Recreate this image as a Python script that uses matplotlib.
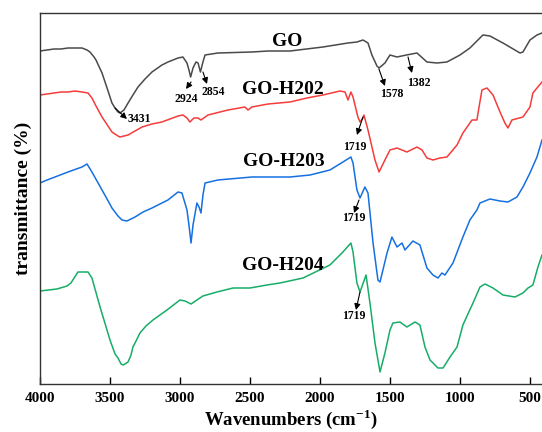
import numpy as np
import matplotlib
matplotlib.use("Agg")
import matplotlib.pyplot as plt

# FTIR spectra of GO and the three GO-H20x samples (offset, arbitrary units).
go_wn = [4000, 3950, 3900, 3850, 3800, 3750, 3700, 3664, 3643, 3614, 3600, 3557, 3521,
         3486, 3464, 3443, 3429, 3400, 3371, 3336, 3300, 3250, 3200, 3129, 3086, 3014,
         2979, 2950, 2936, 2924, 2907, 2886, 2871, 2854, 2836, 2821, 2729, 2486,
         2371, 2214, 1979, 1800, 1736, 1693, 1657, 1629, 1593, 1578, 1536, 1500,
         1450, 1382, 1307, 1236, 1164, 1093, 1000, 929, 836, 786, 693, 571, 550,
         500, 450, 414]
go_t = [333, 334, 335, 335, 336, 336, 336, 334, 332, 327, 324, 311, 296,
        281, 276, 272, 271, 274, 281, 289, 297, 305, 312, 319, 322, 326,
        327, 321, 314, 307, 316, 322, 321, 312, 322, 329, 331, 332,
        333, 333, 337, 341, 342, 344, 341, 329, 318, 316, 321, 329,
        327, 329, 331, 322, 321, 322, 329, 336, 349, 348, 341, 331, 332,
        344, 349, 351]

h202_wn = [4000, 3950, 3900, 3850, 3800, 3750, 3700, 3657, 3629, 3600, 3557, 3486, 3443,
           3429, 3371, 3321, 3271, 3200, 3129, 3014, 2979, 2950, 2929, 2900, 2871, 2850, 2800,
           2657, 2536, 2514, 2486, 2371, 2214, 2093, 1979, 1857, 1821, 1800, 1779,
           1764, 1729, 1714, 1693, 1686, 1657, 1607, 1578, 1536, 1500, 1450, 1379,
           1307, 1271, 1236, 1193, 1143, 1093, 1021, 979, 914, 879, 871, 843, 807,
           764, 714, 679, 657, 629, 550, 500, 479, 450, 414]
h202_t = [289, 290, 291, 292, 292, 293, 292, 291, 286, 278, 267, 252, 248,
          247, 249, 253, 257, 260, 262, 268, 269, 266, 262, 266, 266, 264, 269,
          274, 277, 274, 277, 280, 282, 286, 289, 293, 292, 284, 292,
          287, 267, 262, 266, 269, 254, 224, 212, 224, 234, 236, 232,
          237, 234, 226, 224, 226, 227, 239, 251, 264, 264, 271, 294, 296,
          289, 272, 261, 256, 264, 267, 277, 291, 296, 302]

h203_wn = [4000, 3950, 3893, 3800, 3700, 3664, 3629, 3593, 3557, 3521, 3486, 3443, 3414,
           3379, 3350, 3321, 3264, 3200, 3086, 3014, 2986, 2950, 2936, 2921, 2907, 2879,
           2864, 2850, 2836, 2821, 2729, 2486, 2214, 2071, 1929, 1836, 1779, 1764,
           1736, 1714, 1679, 1657, 1621, 1586, 1571, 1521, 1486, 1450, 1414, 1393,
           1336, 1286, 1236, 1193, 1157, 1129, 1107, 1050, 979, 929, 879, 857, 786,
           714, 657, 593, 550, 500, 450, 414]
h203_t = [201, 204, 207, 212, 217, 220, 212, 203, 194, 185, 176, 168, 164,
          163, 165, 167, 172, 176, 184, 192, 191, 174, 159, 141, 159, 181,
          177, 171, 189, 201, 204, 207, 207, 209, 214, 222, 227, 221,
          194, 186, 197, 191, 141, 104, 102, 131, 147, 137, 141, 134,
          143, 139, 116, 109, 106, 111, 109, 121, 147, 164, 174, 181, 185,
          183, 182, 187, 197, 211, 227, 244]

h204_wn = [4000, 3879, 3807, 3779, 3729, 3657, 3629, 3571, 3500, 3464, 3443, 3421, 3407,
           3393, 3371, 3350, 3336, 3314, 3286, 3243, 3193, 3093, 3000, 2964, 2921, 2879,
           2836, 2736, 2621, 2500, 2379, 2286, 2121, 1929, 1836, 1779, 1764, 1736,
           1714, 1671, 1643, 1607, 1571, 1536, 1500, 1479, 1429, 1379, 1321, 1286,
           1250, 1214, 1157, 1121, 1071, 1021, 979, 907, 857, 821, 764, 693, 607,
           550, 514, 479, 443, 414]
h204_t = [93, 95, 98, 101, 112, 112, 106, 77, 44, 30, 26, 20, 19,
          20, 22, 29, 37, 43, 51, 58, 64, 74, 84, 83, 80, 84,
          88, 92, 96, 96, 99, 101, 106, 119, 132, 141, 132, 101,
          92, 109, 81, 41, 12, 31, 54, 61, 62, 57, 62, 59,
          37, 24, 16, 16, 27, 37, 59, 81, 97, 100, 96, 89, 87,
          91, 96, 99, 117, 129]

sample_names = ["GO", "GO-H202", "GO-H203", "GO-H204"]
peak_labels = ["3431", "2924", "2854", "1578", "1382", "1719", "1719", "1719"]

plt.rcParams["font.family"] = ["Liberation Serif", "DejaVu Serif"]
plt.rcParams["font.weight"] = "bold"
plt.rcParams["mathtext.fontset"] = "custom"
plt.rcParams["mathtext.rm"] = "Liberation Serif:bold"
plt.rcParams["mathtext.bf"] = "Liberation Serif:bold"

fig = plt.figure(figsize=(5.42, 4.32), dpi=100)
ax = fig.add_axes([40 / 542, 48 / 432, 502 / 542, 371 / 432])

colors = ["#4a4a4a", "#f53c3c", "#1670e0", "#17ad68"]
series = [(go_wn, go_t), (h202_wn, h202_t), (h203_wn, h203_t), (h204_wn, h204_t)]
for (wn, t), c in zip(series, colors):
    ax.plot(wn, t, color=c, lw=1.1)

# sample names next to each trace
name_pos = [(2236, 343), (2264, 295), (2257, 222), (2264, 119)]
for name, (x, y) in zip(sample_names, name_pos):
    ax.text(x, y, name, fontsize=14, fontweight="bold", ha="center", va="center")

# (arrow tail, arrow head, text centre) for each peak label
arrows = [
    ((3464, 276), (3379, 265), (3290, 265)),
    ((2921, 302), (2957, 295), (2957, 285)),
    ((2836, 312), (2807, 300), (2764, 292)),
    ((1579, 315), (1536, 298), (1486, 290)),
    ((1371, 327), (1343, 311), (1293, 301)),
    ((1693, 267), (1736, 249), (1750, 237)),
    ((1721, 184), (1757, 171), (1757, 166)),
    ((1714, 92), (1743, 74), (1757, 68)),
]
for label, (tail, head, txt) in zip(peak_labels, arrows):
    ax.annotate("", xy=head, xytext=tail,
                arrowprops=dict(arrowstyle="-|>", color="k", lw=0.8,
                                mutation_scale=9, shrinkA=0, shrinkB=0))
    ax.text(txt[0], txt[1], label, fontsize=8.5, fontweight="bold",
            ha="center", va="center")

ax.set_xlim(4000, 414)
ax.set_ylim(0, 371)
ax.set_xticks([4000, 3500, 3000, 2500, 2000, 1500, 1000, 500])
ax.set_yticks([])
ax.tick_params(axis="x", direction="in", length=5, width=1, pad=6, labelsize=11)
for lab in ax.get_xticklabels():
    lab.set_fontweight("bold")
ax.spines["right"].set_visible(False)
for s in ["left", "top", "bottom"]:
    ax.spines[s].set_color("#333333")
    ax.spines[s].set_linewidth(1.0)

ax.set_xlabel(r"Wavenumbers (cm$^{\mathbf{-1}}$)", fontsize=13.5, fontweight="bold", labelpad=1)
ax.set_ylabel("transmittance (%)", fontsize=14, fontweight="bold", labelpad=6)

fig.savefig("out.png", dpi=100)
